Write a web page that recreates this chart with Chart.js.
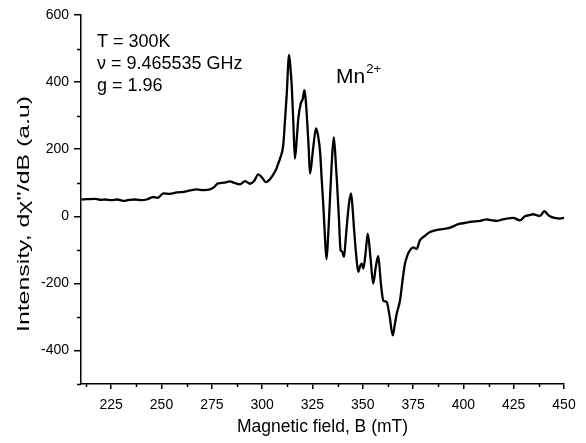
<!DOCTYPE html>
<html>
<head>
<meta charset="utf-8">
<script src="https://cdn.jsdelivr.net/npm/chart.js@4.4.1/dist/chart.umd.min.js"></script>
<style>
html,body{margin:0;padding:0;background:#fff;}
canvas{display:block;}
</style>
</head>
<body>
<canvas id="c" width="586" height="443"></canvas>
<script>
// Magnetic field (mT)
const FIELD = [
210.3,213,217,220,222,225,228,231,234,237,240,242.6,245.9,248,250.9,254,257.6,261,264.2,267.5,
270.8,274.1,276,278.1,281,284.0,286,289.0,291.5,294.0,296,298.1,300,301.8,303.5,305.3,307,308.0,
308.9,310.5,311.3,312.2,313.4,314.1,314.7,315.5,316.3,317.2,318.0,319.2,320.2,321.0,321.6,322.1,
323.0,323.8,325.3,326.8,327.8,328.8,329.6,330.4,331.2,332.0,332.8,333.7,334.7,335.6,336.4,337.2,
338.1,339.0,339.7,340.7,341.5,342.2,343.2,344.2,345.0,345.7,346.8,347.8,348.6,349.5,350.3,351.4,
352.5,353.8,355.2,356.5,357.7,359.0,360.2,361.9,363.4,364.9,366.0,366.9,368.5,369.8,371.0,372.3,
373.5,375.1,376.8,378.4,380.5,383.4,386,388.4,391,393.4,396,398.3,401,403.3,406,408.3,410,411.6,
414,416.6,419,421.5,424.8,428.1,430.6,432.5,434.7,437,438.1,440.2,442,443.0,445.5,448.0,450
];
// Intensity dχ''/dB (a.u)
const INTENSITY = [
50,51,52,49,50,48,50,46,49,50,48,50,57,55,68,67,71,73,77,80,
78,80,86,98,100,104,100,95,105,97,105,125,115,102,108,122,140,157,
172,212,280,361,481,440,391,280,172,230,292,336,350,376,350,311,
220,127,200,262,240,192,110,33,-60,-128,-60,50,170,235,180,100,
0,-101,-105,-121,-70,-20,40,68,20,-40,-120,-166,-150,-141,-156,-110,
-52,-120,-201,-150,-119,-200,-251,-256,-300,-355,-320,-290,-251,-190,-141,-115,
-101,-93,-97,-72,-60,-47,-42,-39,-37,-34,-27,-22,-20,-17,-15,-14,-11,-9,
-12,-14,-10,-7,-5,-12,0,3,6,2,1,15,5,0,-5,-7,-5
];
const X_MAJOR = [225,250,275,300,325,350,375,400,425,450];
const X_MINOR = [212.5,237.5,262.5,287.5,312.5,337.5,362.5,387.5,412.5,437.5];
const Y_MAJOR = [-400,-200,0,200,400,600];
const Y_MINOR = [-500,-300,-100,100,300,500];
const INFO_LINES = ['T = 300K', 'ν = 9.465535 GHz', 'g = 1.96'];
const ION = 'Mn';
const ION_CHARGE = '2+';
const Y_TITLE = 'Intensity, dχ\'\'/dB (a.u)';

const FONT = '"Liberation Sans", Arial, Helvetica, sans-serif';

const extras = {
  id: 'extras',
  afterDraw(chart) {
    const ctx = chart.ctx;
    const xs = chart.scales.x, ys = chart.scales.y;
    const ca = chart.chartArea;
    ctx.save();
    ctx.strokeStyle = '#000';
    ctx.lineWidth = 1.5;
    ctx.beginPath();
    X_MINOR.forEach(v => {
      const px = Math.round(xs.getPixelForValue(v)) + 0.5;
      ctx.moveTo(px, ca.bottom);
      ctx.lineTo(px, ca.bottom + 3);
    });
    Y_MINOR.forEach(v => {
      const py = Math.round(ys.getPixelForValue(v)) + 0.5;
      ctx.moveTo(ca.left, py);
      ctx.lineTo(ca.left - 4, py);
    });
    ctx.stroke();

    ctx.fillStyle = '#000';
    ctx.textBaseline = 'alphabetic';
    ctx.textAlign = 'left';
    ctx.font = '18px ' + FONT;
    const tx = ca.left + 16;
    INFO_LINES.forEach((t, i) => {
      ctx.fillText(t, tx, ca.top + 32 + i * 22);
    });
    ctx.font = '21px ' + FONT;
    const mx = ca.left + 255;
    const my = ca.top + 68;
    ctx.fillText(ION, mx, my);
    const w = ctx.measureText(ION).width;
    ctx.font = '13px ' + FONT;
    ctx.fillText(ION_CHARGE, mx + w + 1, my - 10);

    // y axis title (stretched along its length, as in the reference)
    ctx.font = '17px ' + FONT;
    const tw = ctx.measureText(Y_TITLE).width;
    ctx.translate(24.5, 214);
    ctx.rotate(-Math.PI / 2);
    ctx.scale(236 / tw, 1);
    ctx.textAlign = 'center';
    ctx.textBaseline = 'middle';
    ctx.fillText(Y_TITLE, 0, 0);
    ctx.restore();
  }
};

new Chart(document.getElementById('c'), {
  type: 'line',
  data: {
    datasets: [{
      data: FIELD.map((b, i) => ({x: b, y: INTENSITY[i]})),
      borderColor: '#000',
      borderWidth: 2.3,
      pointRadius: 0,
      fill: false,
      cubicInterpolationMode: 'monotone'
    }]
  },
  options: {
    responsive: false,
    animation: false,
    events: [],
    layout: {padding: {top: 15, right: 22, left: 0, bottom: 0}},
    plugins: {legend: {display: false}, tooltip: {enabled: false}},
    scales: {
      x: {
        type: 'linear',
        min: 210, max: 450,
        afterFit(s) { s.height = 59; },
        afterBuildTicks(s) { s.ticks = X_MAJOR.map(v => ({value: v})); },
        border: {display: true, color: '#000', width: 1.5},
        grid: {drawOnChartArea: false, drawTicks: true, tickLength: 5, color: '#000', lineWidth: 1.5},
        ticks: {color: '#000', font: {family: FONT, size: 14}, padding: 8, maxRotation: 0, autoSkip: false},
        title: {display: true, text: 'Magnetic field, B (mT)', color: '#000',
                font: {family: FONT, size: 17.5}, padding: {top: 0, bottom: 5.5}}
      },
      y: {
        type: 'linear',
        min: -500, max: 600,
        afterFit(s) { s.width = 81; },
        afterBuildTicks(s) { s.ticks = Y_MAJOR.map(v => ({value: v})); },
        border: {display: true, color: '#000', width: 1.5},
        grid: {drawOnChartArea: false, drawTicks: true, tickLength: 7, color: '#000', lineWidth: 1.5},
        ticks: {color: '#000', font: {family: FONT, size: 14}, padding: 5, autoSkip: false},
        title: {display: false}
      }
    }
  },
  plugins: [extras]
});
</script>
</body>
</html>
